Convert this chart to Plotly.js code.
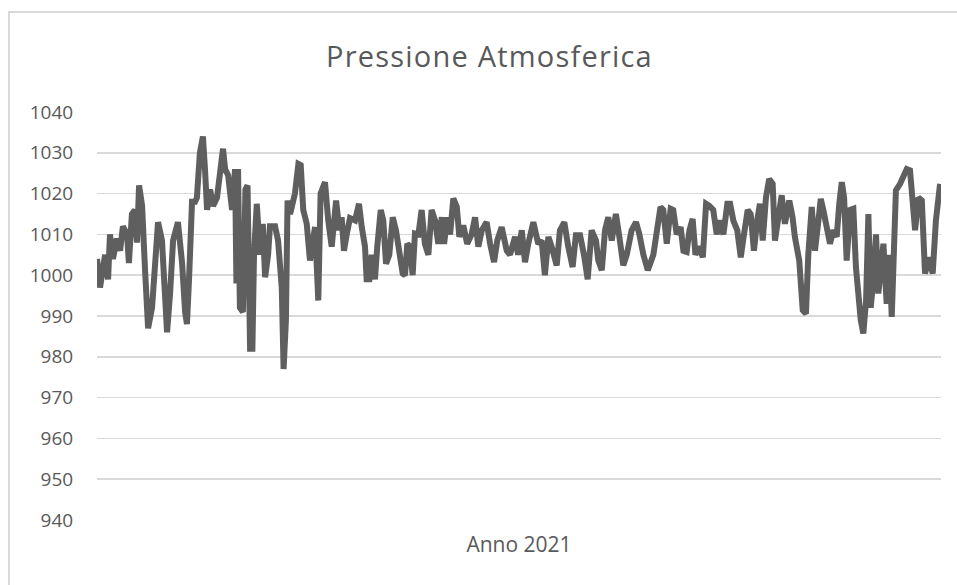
<!DOCTYPE html>
<html>
<head>
<meta charset="utf-8">
<script src="https://cdn.plot.ly/plotly-3.0.1.min.js"></script>
<style>
  html, body { margin: 0; padding: 0; background: #ffffff; overflow: hidden; }
  #chart { position: absolute; left: 0; top: 0; width: 957px; height: 585px; }
  #frame { position: absolute; left: 8px; top: 11px; width: 1000px; height: 700px;
           border-left: 2px solid #d9d9d9; border-top: 2px solid #d9d9d9; pointer-events: none; }
  .gtitle { letter-spacing: 1.2px; }
</style>
</head>
<body>
<div id="chart"></div>
<div id="frame"></div>
<script>
// Day of year (2021) and atmospheric pressure (hPa)
const giorni = [
  0, 1.3, 3.5, 4.8, 5.6, 6.9, 8.6, 10.0, 11.2, 13.0, 13.8, 15.1, 16.4, 17.3, 18.2, 19.5, 20.8, 22.1, 23.8, 25.1,
  26.4, 28.1, 29.4, 30.3, 31.6, 32.9, 35.0, 36.8, 38.1, 38.9, 39.8, 41.1, 42.4, 43.2, 44.5, 45.8, 46.7, 47.6, 48.9, 50.2,
  51.9, 53.2, 54.5, 55.4, 56.7, 58.4, 59.7, 60.3, 61.0, 61.8, 63.1, 64.2, 65.1, 66.2, 67.2, 67.9, 69.1, 70.5, 71.7, 72.7,
  74.0, 74.8, 77.0, 78.3, 79.9, 80.7, 81.7, 82.4, 83.5, 85.6, 87.1, 88.1, 89.2, 90.7, 92.1, 94.3, 95.7, 96.7, 98.6, 100.0,
  101.5, 103.4, 104.8, 105.8, 106.8, 108.0, 109.4, 111.6, 113.3, 114.5, 115.9, 116.6, 117.8, 118.8, 120.2, 121.2, 122.7, 123.8, 125.0, 126.4,
  127.9, 129.3, 130.3, 132.2, 133.2, 134.2, 135.4, 136.5, 137.5, 139.0, 140.4, 141.8, 143.3, 144.7, 146.2, 147.6, 149.1, 150.1, 151.5, 152.7,
  154.1, 155.6, 156.7, 158.4, 160.1, 162.0, 163.5, 164.9, 166.4, 168.5, 170.0, 171.7, 173.1, 175.0, 177.2, 178.6, 180.8, 182.1, 183.7, 185.1,
  186.5, 188.7, 190.8, 192.3, 193.7, 195.2, 196.6, 198.8, 200.2, 202.1, 203.8, 205.7, 207.1, 208.9, 210.6, 212.2, 213.9, 215.8, 216.8, 218.3,
  219.7, 221.1, 222.6, 224.4, 225.9, 227.6, 229.1, 231.2, 233.1, 234.5, 236.3, 238.2, 240.6, 242.0, 243.7, 244.9, 246.4, 248.1, 249.2, 250.7,
  252.4, 253.6, 255.0, 256.2, 257.6, 258.8, 260.5, 262.0, 263.4, 264.8, 266.5, 268.0, 269.4, 270.9, 272.6, 273.8, 275.2, 276.9, 278.4, 279.8,
  281.4, 282.7, 284.1, 285.5, 286.7, 287.9, 289.3, 290.7, 292.2, 293.2, 294.6, 296.1, 297.5, 299.4, 300.8, 301.8, 303.7, 305.2, 306.6, 307.6,
  309.1, 310.5, 312.0, 313.0, 314.1, 315.6, 317.0, 318.4, 319.9, 321.0, 322.1, 323.1, 324.2, 325.7, 327.1, 328.2, 329.3, 330.3, 331.4, 332.6,
  333.6, 334.6, 335.7, 336.9, 337.9, 338.9, 340.1, 341.5, 342.7, 343.7, 344.7, 345.5, 347.3, 348.7, 350.2, 351.6, 352.8, 353.8, 355.2, 356.7,
  358.1, 359.9, 361.4, 362.8, 364.6
];
const pressione = [
  1004, 997, 1005, 999, 1010, 1004, 1009, 1006, 1012, 1010, 1003, 1015, 1016, 1008, 1022, 1017, 1001, 987, 992, 1005,
  1013, 1008.5, 992, 986, 995.5, 1008.5, 1013, 1003, 991, 988, 999, 1018, 1018, 1019, 1030, 1034, 1026, 1016, 1021, 1017,
  1019, 1027, 1031, 1026, 1024.5, 1016, 1026, 998, 1026, 992, 991, 1021, 1022, 982, 982, 1005, 1017.5, 1005, 1012.6, 999.5,
  1005, 1012, 1012, 1008.5, 997, 977, 989, 1018.3, 1015, 1020, 1027.3, 1027, 1016, 1012.6, 1003.6, 1011.8, 993.8, 1020, 1022.8, 1013.4,
  1007, 1018.3, 1011, 1014.2, 1006, 1010, 1014, 1013.4, 1017.5, 1011.8, 1007, 999, 999, 1005, 999, 1007, 1016, 1013.4, 1002.8, 1005,
  1014.2, 1011, 1007, 1000.4, 1000, 1007.7, 1007, 1000, 1010.2, 1010, 1016, 1007.7, 1005, 1016, 1013.4, 1007.7, 1014.2, 1007.7, 1014.2, 1010,
  1018.8, 1016.7, 1009.4, 1012.2, 1007.7, 1010, 1014.2, 1007, 1011, 1013, 1007.7, 1003.2, 1008.5, 1011.8, 1006, 1005, 1009.4, 1005, 1011, 1003.2,
  1007.7, 1013, 1007.7, 1008.5, 1000, 1009.4, 1007, 1002.4, 1011, 1013, 1007, 1002, 1009.8, 1009.8, 1005, 999, 1011, 1008.5, 1003.6, 1001.2,
  1011, 1014.2, 1008.5, 1015, 1009.4, 1002.4, 1005, 1011, 1013, 1010.2, 1005, 1001.2, 1005, 1011, 1016.7, 1016, 1007.7, 1016.3, 1016, 1010,
  1011.8, 1006, 1005.7, 1011, 1013.8, 1005, 1007, 1004.4, 1017.5, 1017, 1016, 1010, 1013.4, 1010, 1017.5, 1017.5, 1013.4, 1011, 1004.4, 1010,
  1016, 1015, 1006, 1013.4, 1017.5, 1008.5, 1019, 1023.6, 1022.4, 1008.5, 1013.4, 1019.6, 1012.6, 1018.3, 1014.2, 1009.4, 1003.6, 991.4, 990.6, 1005,
  1016.7, 1006, 1013.4, 1018.7, 1016, 1011.8, 1007.7, 1011, 1009.4, 1017.5, 1022.8, 1019, 1003.6, 1016, 1016.3, 1002, 993.8, 989, 985.7, 993.8,
  1015, 992, 998.7, 1010, 995.5, 1002, 1007.7, 993, 1005, 989.8, 1005, 1020.8, 1022.4, 1024, 1026, 1025.7, 1016.7, 1011, 1019, 1018.3,
  1000.4, 1004.4, 1000.4, 1013.4, 1022.4
];
const yTicks = [940, 950, 960, 970, 980, 990, 1000, 1010, 1020, 1030, 1040];
const xLabel = ['Anno 2021'];
const xLabelPos = [182.5];
const titolo = 'Pressione Atmosferica';

const trace = {
  x: giorni,
  y: pressione,
  type: 'scatter',
  mode: 'lines',
  line: { color: '#5f5f5f', width: 6, shape: 'linear' },
  hoverinfo: 'x+y'
};

const layout = {
  width: 957,
  height: 585,
  paper_bgcolor: '#ffffff',
  plot_bgcolor: '#ffffff',
  margin: { l: 97, r: 16, t: 112, b: 65, pad: 0 },
  showlegend: false,
  title: {
    text: titolo,
    font: { family: 'Open Sans, sans-serif', size: 29, color: '#595959' },
    xref: 'container', x: 0.5115, xanchor: 'center',
    yref: 'container', y: 0.903, yanchor: 'middle'
  },
  xaxis: {
    range: [0, 365],
    showgrid: false,
    zeroline: false,
    showline: false,
    tickmode: 'array',
    tickvals: xLabelPos,
    ticktext: xLabel,
    ticks: 'outside',
    ticklen: 6,
    tickcolor: 'rgba(0,0,0,0)',
    tickfont: { family: 'Open Sans, sans-serif', size: 21, color: '#595959' },
    fixedrange: true
  },
  yaxis: {
    range: [940, 1040],
    tickmode: 'array',
    tickvals: yTicks,
    ticktext: yTicks.map(String),
    showgrid: true,
    gridcolor: '#d9d9d9',
    gridwidth: 1.5,
    zeroline: false,
    showline: false,
    ticks: 'outside',
    ticklen: 19,
    tickcolor: 'rgba(0,0,0,0)',
    tickfont: { family: 'Open Sans, sans-serif', size: 19, color: '#595959' },
    fixedrange: true
  }
};

Plotly.newPlot('chart', [trace], layout, { displayModeBar: false, staticPlot: true });
</script>
</body>
</html>
